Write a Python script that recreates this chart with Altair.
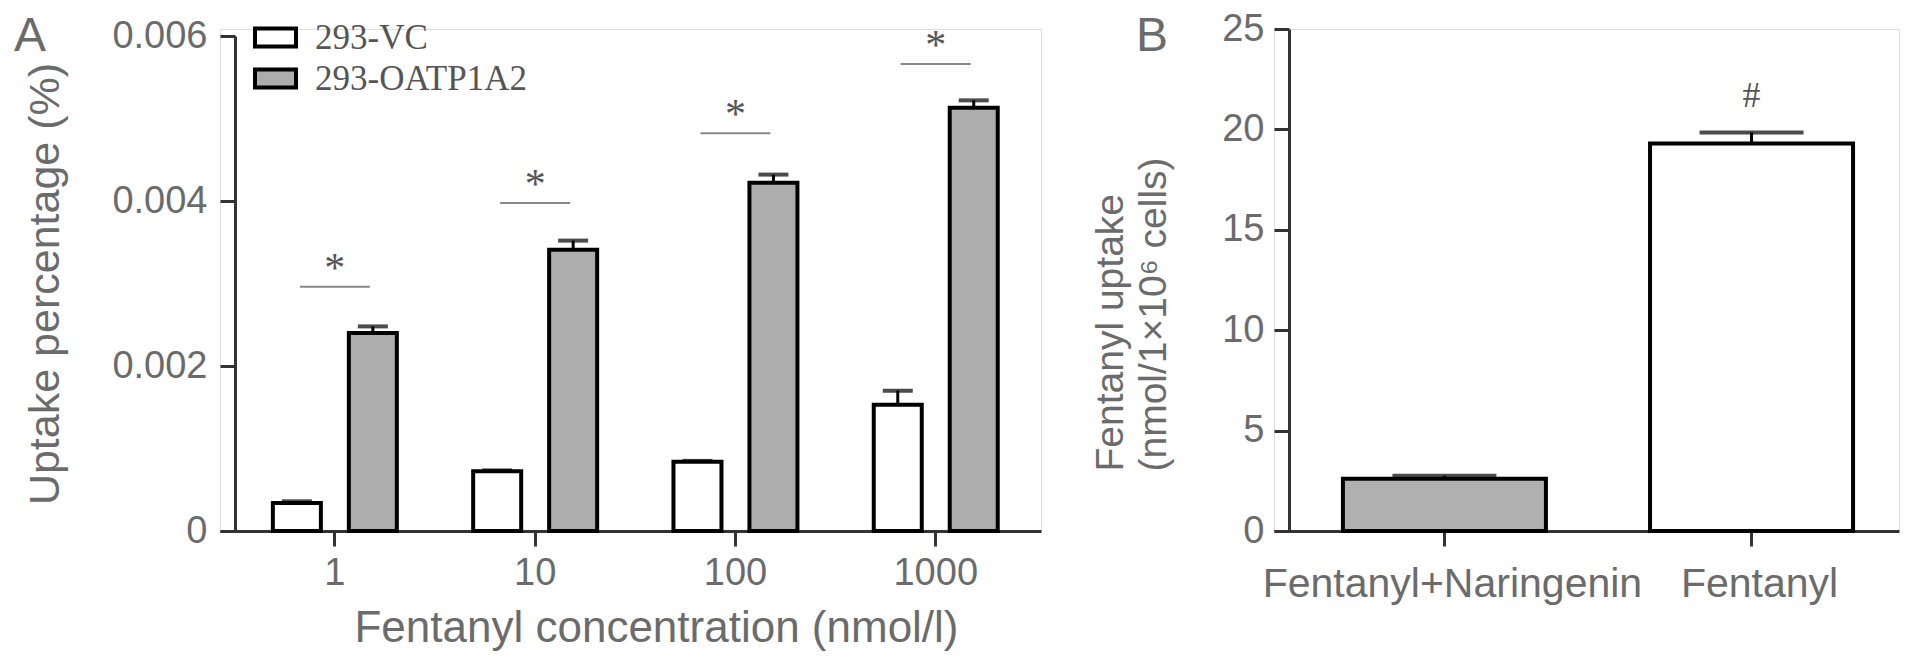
import altair as alt
import pandas as pd

# ---------------- Panel A data ----------------
conc = ["1", "10", "100", "1000"]
series = ["293-VC", "293-OATP1A2"]
vc_mean = [0.00034, 0.000725, 0.00084, 0.00153]
vc_err = [0.00002, 0.00001, 0.00001, 0.00017]
oatp_mean = [0.0024, 0.00341, 0.00422, 0.00513]
oatp_err = [0.00008, 0.00011, 0.00010, 0.00009]
sig_line = [0.00296, 0.003975, 0.00482, 0.00566]

# ---------------- Panel B data ----------------
b_groups = ["Fentanyl+Naringenin", "Fentanyl"]
b_mean = [2.6, 19.3]
b_err = [0.15, 0.55]
b_fill = ["#b0b0b0", "white"]
b_mark = ["", "#"]

TXT = "#6b6b6b"
AX = "#333333"
SANS = "Liberation Sans"
SERIF = "Liberation Serif"

dfA = pd.DataFrame({
    "conc": conc * 2,
    "series": [series[0]] * 4 + [series[1]] * 4,
    "mean": vc_mean + oatp_mean,
    "err": vc_err + oatp_err,
})
dfA["top"] = dfA["mean"] + dfA["err"]
dfSig = pd.DataFrame({"conc": conc, "line": sig_line})

xA = alt.X("conc:N", sort=conc,
           scale=alt.Scale(paddingInner=0.381, paddingOuter=0.24, align=0.55),
           axis=alt.Axis(title="Fentanyl concentration (nmol/l)", labelAngle=0,
                         labelFontSize=38, titleFontSize=44, labelPadding=8,
                         titlePadding=14, titleX=436, tickSize=15, tickWidth=3, domainWidth=3,
                         tickColor=AX, domainColor=AX, labelColor=TXT, titleColor=TXT,
                         titleFontWeight="normal", labelFont=SANS, titleFont=SANS,
                         labelLimit=0))
xoA = alt.XOffset("series:N", sort=series,
                  scale=alt.Scale(paddingInner=0.368, paddingOuter=0))
yscaleA = alt.Scale(domain=[0, 0.006], range=[502, 7], nice=False)

barsA = alt.Chart(dfA).mark_bar(stroke="black", strokeWidth=4, strokeJoin="miter").encode(
    x=xA,
    xOffset=xoA,
    y=alt.Y("mean:Q", scale=yscaleA,
            axis=alt.Axis(title="Uptake percentage (%)", values=[0, 0.002, 0.004, 0.006],
                          format="~g", offset=-15, labelFontSize=38, titleFontSize=43,
                          labelPadding=13, titlePadding=44, tickSize=15, tickWidth=3,
                          domainWidth=3, tickColor=AX, domainColor=AX, labelColor=TXT,
                          titleColor=TXT, titleFontWeight="normal", grid=False,
                          labelFont=SANS, titleFont=SANS)),
    color=alt.Color("series:N", sort=series,
                    scale=alt.Scale(domain=series, range=["white", "#adadad"]),
                    legend=alt.Legend(title=None, orient="none", legendX=33, legendY=-14,
                                      symbolType="M-1,-0.44H1V0.44H-1Z", symbolSize=1681,
                                      symbolStrokeColor="black", symbolStrokeWidth=4,
                                      labelFont=SERIF, labelFontSize=35, labelColor="#555555",
                                      labelOffset=17, rowPadding=0, padding=0, labelLimit=0)),
)
errA = alt.Chart(dfA).mark_rule(color="black", strokeWidth=3).encode(
    x=alt.X("conc:N", sort=conc), xOffset=alt.XOffset("series:N", sort=series),
    y=alt.Y("mean:Q", scale=yscaleA), y2="top:Q")
capA = alt.Chart(dfA).mark_tick(color="black", thickness=4, size=30).encode(
    x=alt.X("conc:N", sort=conc), xOffset=alt.XOffset("series:N", sort=series),
    y=alt.Y("top:Q", scale=yscaleA))
sigA = alt.Chart(dfSig).mark_tick(color="#555555", thickness=2, size=70).encode(
    x=alt.X("conc:N", sort=conc), y=alt.Y("line:Q", scale=yscaleA))
starA = alt.Chart(dfSig).mark_text(text="*", font=SERIF, fontSize=42, color="#555555",
                                   baseline="alphabetic", dy=-5).encode(
    x=alt.X("conc:N", sort=conc), y=alt.Y("line:Q", scale=yscaleA))
labA = alt.Chart(pd.DataFrame({"p": ["A"]})).mark_text(
    align="left", baseline="alphabetic", font=SANS, fontSize=48, color=TXT).encode(
    x=alt.value(-206), y=alt.value(22), text="p:N")

chartA = alt.layer(barsA, errA, capA, sigA, starA, labA).properties(width=821, height=502)

# ---------------- Panel B ----------------
dfB = pd.DataFrame({"group": b_groups, "mean": b_mean, "err": b_err, "mark": b_mark})
dfB["top"] = dfB["mean"] + dfB["err"]
xB = alt.X("group:N", sort=b_groups,
           scale=alt.Scale(paddingInner=0.339, paddingOuter=0.187, align=0.6),
           axis=alt.Axis(title=None, labelAngle=0, labelFontSize=41, labelPadding=18,
                         labelOffset=8, tickSize=15, tickWidth=3, domainWidth=3,
                         tickColor=AX, domainColor=AX, labelColor=TXT, labelFont=SANS,
                         labelLimit=0))
yscaleB = alt.Scale(domain=[0, 25], nice=False)
barsB = alt.Chart(dfB).mark_bar(stroke="black", strokeWidth=4).encode(
    x=xB,
    y=alt.Y("mean:Q", scale=yscaleB,
            axis=alt.Axis(title=["Fentanyl uptake", "(nmol/1×10⁶ cells)"],
                          values=[0, 5, 10, 15, 20, 25], offset=-15, labelFontSize=38,
                          titleFontSize=39, titleLineHeight=43, labelPadding=10,
                          titlePadding=48, titleAlign="left", titleY=442,
                          tickSize=15, tickWidth=3, domainWidth=3,
                          tickColor=AX, domainColor=AX, labelColor=TXT, titleColor=TXT,
                          titleFontWeight="normal", grid=False, labelFont=SANS,
                          titleFont=SANS)),
    color=alt.Color("group:N", scale=alt.Scale(domain=b_groups, range=b_fill), legend=None),
)
errB = alt.Chart(dfB).mark_rule(color="black", strokeWidth=3).encode(
    x=alt.X("group:N", sort=b_groups), y=alt.Y("mean:Q", scale=yscaleB), y2="top:Q")
capB = alt.Chart(dfB).mark_tick(color="black", thickness=4, size=104).encode(
    x=alt.X("group:N", sort=b_groups), y=alt.Y("top:Q", scale=yscaleB))
hashB = alt.Chart(dfB).mark_text(font=SERIF, fontSize=36, color="#555555",
                                 baseline="alphabetic", dy=-25).encode(
    x=alt.X("group:N", sort=b_groups), y=alt.Y("top:Q", scale=yscaleB), text="mark:N")
labB = alt.Chart(pd.DataFrame({"p": ["B"]})).mark_text(
    align="left", baseline="alphabetic", font=SANS, fontSize=48, color=TXT).encode(
    x=alt.value(-138), y=alt.value(22), text="p:N")

chartB = alt.layer(barsB, errB, capB, hashB, labB).properties(width=625, height=502)

chart = alt.hconcat(chartA, chartB, spacing=49).resolve_scale(
    x="independent", y="independent", color="independent", xOffset="independent"
).properties(
    padding={"left": 5, "top": 1, "right": 5, "bottom": 5}
).configure_view(stroke=None).configure(background="white")

chart.save("out.html", embed_options={"renderer": "svg", "actions": False})
